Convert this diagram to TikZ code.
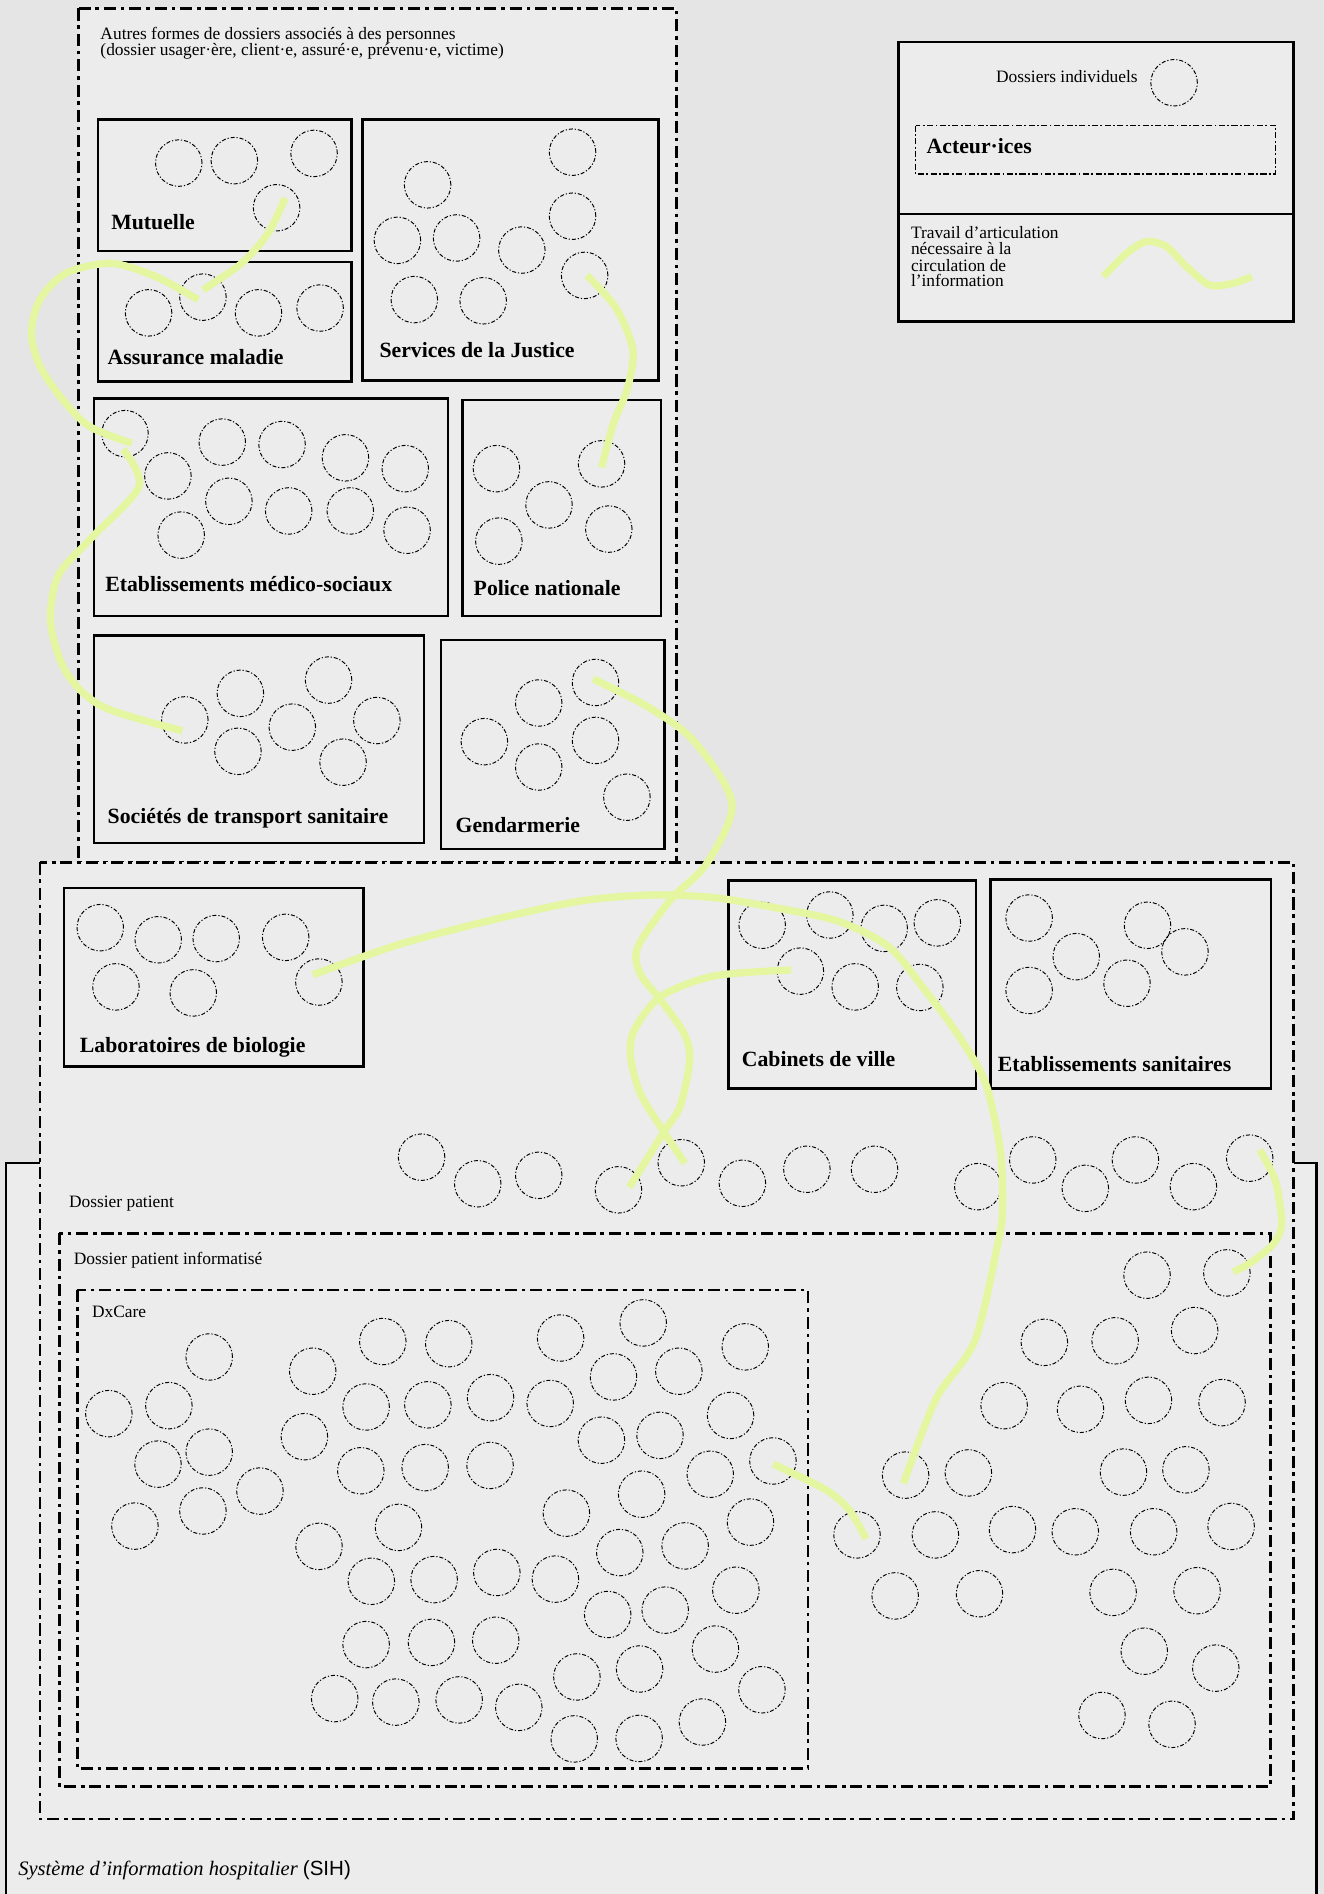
\documentclass[tikz,border=0pt]{standalone}
\usepackage{fontspec}
\setmainfont{Liberation Serif}
\newfontfamily\sansf{Liberation Sans}
\definecolor{pagebg}{HTML}{E5E5E5}
\definecolor{boxbg}{HTML}{ECECEC}
\definecolor{hl}{RGB}{228,246,160}
\begin{document}
\begin{tikzpicture}[x=1pt,y=-1pt,
  bigbox/.style={draw=black, line width=2.2pt, dash pattern=on 10pt off 4pt on 3pt off 4pt, fill=boxbg},
  solidbox/.style={draw=black, line width=2pt, fill=boxbg},
  dossier/.style={circle, draw=black, line width=0.8pt, dash pattern=on 3.3pt off 1.6pt on 1pt off 1.6pt, minimum size=38.5pt, inner sep=0pt},
  lbl/.style={font=\fontsize{14.4}{14}\selectfont, anchor=base west, inner sep=0pt},
  head/.style={font=\fontsize{18}{18}\selectfont\bfseries, anchor=base west, inner sep=0pt},
  artic/.style={draw=hl, line width=6pt},
]
\useasboundingbox (0,0) rectangle (1096,1568);
\fill[pagebg] (0,0) rectangle (1096,1568);

% SIH
\draw[line width=2pt, fill=boxbg] (5,963) rectangle (1090,1590);
\node[anchor=base west, inner sep=0pt, font=\fontsize{17}{17}\selectfont] (sih) at (15,1553) {\itshape Système d'information hospitalier \upshape\sansf(SIH)};

% Autres formes
\path[bigbox] (65,7) rectangle (560,714);
\node[lbl] (aut1) at (83,32.5) {Autres formes de dossiers associés à des personnes};
\node[lbl] (aut2) at (83,46) {(dossier usager·ère, client·e, assuré·e, prévenu·e, victime)};

\path[solidbox] (81,99) rectangle (291,208);
\path[solidbox] (81,217) rectangle (291,316);
\path[solidbox] (300,99) rectangle (545,315);
\path[solidbox] (78,330) rectangle (371,510);
\path[solidbox] (383,331) rectangle (547,510);
\path[solidbox] (78,526) rectangle (351,698);
\path[solidbox] (365,530) rectangle (550,703);

% Dossier patient
\path[bigbox] (33,714) rectangle (1071,1506);
\node[lbl] (dpl) at (57,999.5) {Dossier patient};
\path[solidbox] (53,735) rectangle (301,883);
\path[solidbox] (603,729) rectangle (808,901);
\path[solidbox] (820,728) rectangle (1052,901);

\path[bigbox] (49,1021) rectangle (1052,1479);
\node[lbl] (dpil) at (61,1047) {Dossier patient informatisé};
\path[bigbox] (64,1068) rectangle (669,1464);
\node[lbl] (dxl) at (76,1090.5) {DxCare};

% headings
\node[head] (hmu) at (92,190) {Mutuelle};
\node[head] (ham) at (89,302) {Assurance maladie};
\node[head] (hju) at (314,296) {Services de la Justice};
\node[head] (hms) at (87,489.5) {Etablissements médico-sociaux};
\node[head] (hpo) at (392,493) {Police nationale};
\node[head] (hts) at (89,681.5) {Sociétés de transport sanitaire};
\node[head] (hge) at (377,689) {Gendarmerie};
\node[head] (hlb) at (66,871) {Laboratoires de biologie};
\node[head] (hcv) at (614,883) {Cabinets de ville};
\node[head] (hes) at (826,887) {Etablissements sanitaires};

% circles
\foreach [count=\i] \x/\y in {148/135,194/133,260/127,229/172} \node[dossier] (mu\i) at (\x,\y) {};
\foreach [count=\i] \x/\y in {123/259,168/246,214/259,265/255} \node[dossier] (am\i) at (\x,\y) {};
\foreach [count=\i] \x/\y in {354/153,474/126,329/199,378/197,432/207,474/179,484/228,343/248,400/249} \node[dossier] (ju\i) at (\x,\y) {};
\foreach [count=\i] \x/\y in {103.5/359,139/394,184/366,233.5/368,286/379,335.5/388,189.5/415,239/423,290/423,337/439,150/443} \node[dossier] (ms\i) at (\x,\y) {};
\foreach [count=\i] \x/\y in {411/388,498/384,454.5/418,413/448,504/438} \node[dossier] (po\i) at (\x,\y) {};
\foreach [count=\i] \x/\y in {153/596,199/574,272/563,242/602,312/596.5,197/622,284/631} \node[dossier] (ts\i) at (\x,\y) {};
\foreach [count=\i] \x/\y in {493/565,446/582,401/614,493/613,446/635,519/660} \node[dossier] (ge\i) at (\x,\y) {};
\foreach [count=\i] \x/\y in {83/768,131/778,179/777,236.5/776,96/817,160/822,264/813} \node[dossier] (lb\i) at (\x,\y) {};
\foreach [count=\i] \x/\y in {631/766,687/757.5,732/768.6,776/764,662.6/804,708/817,761.5/817.5} \node[dossier] (cv\i) at (\x,\y) {};
\foreach [count=\i] \x/\y in {852/760,950/766,891/792,981/788,852/820,933/814} \node[dossier] (es\i) at (\x,\y) {};
\foreach [count=\i] \x/\y in {349/958,395.5/980,446/973,512/985,564/962.6,614.6/979.6,668/968,724/968,809.5/982.4,855/960.3,898.5/983.8,940/960.3,988/982.4,1034.6/958.8} \node[dossier] (dp\i) at (\x,\y) {};
\foreach [count=\i] \x/\y in {949.6/1055.7,1015.7/1053.8,864.6/1111.3,923.2/1110,989/1101.5,831.3/1163.7,894.5/1166.7,950.8/1159.3,1011.7/1161.2,749.7/1221.2,801.7/1219.4,930.1/1218.7,981.8/1216.8,709.5/1270.7,774.4/1270.7,838.2/1266.3,890.2/1268.1,955.1/1268.1,1019.2/1263.7,741.1/1321.2,810.9/1319.4,921.5/1318.3,991/1316.9,947.3/1367,1006.5/1381,912.3/1420.2,970.3/1427.5} \node[dossier] (di\i) at (\x,\y) {};
\foreach [count=\i] \x/\y in {173.2/1123.4,90.1/1170.3,139.8/1163.7,130.8/1212.1,173.2/1202.2,215.2/1234.4,111.7/1263.4,168/1250.9,
258.9/1135.2,316.9/1110.6,371.5/1112.4,303.1/1164.8,354.2/1163,406.1/1157.1,252/1189.4,298.7/1217.6,352/1215,405.7/1213.2,329.9/1264.5,264.1/1280.2,307.4/1309.1,359.4/1307.7,411.3/1301.8,303.1/1361.5,357.2/1359.7,410.4/1357.9,277.1/1406.2,327.7/1409.1,380.1/1407.3,429.5/1413.5,
464.1/1107.7,532.5/1095.2,617/1115,507.9/1139.9,562/1135.2,455.5/1161.9,604.8/1171.8,497.9/1192.3,546.4/1188.3,639.9/1209.5,588/1220.5,531.2/1237,468.9/1252.7,621.3/1260.1,513.1/1285.3,567.2/1279.8,459.8/1307.3,609.2/1316.5,503.1/1336.6,550.7/1333,592.3/1365.2,477.6/1388.3,529.5/1381.7,630.8/1398.9,581.5/1425.6,475.4/1439.6,529.1/1439.2} \node[dossier] (dx\i) at (\x,\y) {};

% legend
\draw[line width=2pt, fill=boxbg] (744,35) rectangle (1071,266);
\draw[line width=2pt] (744,177) -- (1071,177);
\node[lbl] (lg1) at (824.5,68.5) {Dossiers individuels};
\node[dossier] (lgc) at (972,68.5) {};
\draw[line width=1pt, dash pattern=on 5pt off 2pt on 1.5pt off 2pt] (758,104) rectangle (1056,144);
\node[head] (lga) at (767,127) {Acteur·ices};
\node[lbl] (lt1) at (754,197.5) {Travail d'articulation};
\node[lbl] (lt2) at (754,211) {nécessaire à la};
\node[lbl] (lt3) at (754,224.5) {circulation de};
\node[lbl] (lt4) at (754,237.5) {l'information};
\draw[artic] plot[smooth] coordinates {(913.4,229) (932.7,209.7) (949.2,200) (965.8,204.2) (982.3,220.8) (1001.6,236) (1021,234.5) (1036.2,229)};

% articulation work
\draw[artic] plot[smooth] coordinates {(236,164) (222,193) (200,218) (168,240)};
\draw[artic] plot[smooth] coordinates {(164,248) (129,229) (92,218) (55,226) (33,248) (26,276) (33,303) (52,331) (74,353) (109,367)};
\draw[artic] plot[smooth] coordinates {(102,372) (115,403) (74,447) (48,477) (42,516) (55,557) (85,585) (151,605)};
\draw[artic] plot[smooth] coordinates {(486,228) (510,255) (524,290) (519,323) (508,350) (498,387)};
\draw[artic] plot[smooth] coordinates {(491,562) (536,585) (574,613) (606,665) (585,715) (555,745) (528,784) (530,806) (547,828) (566,855) (571,877) (563,916) (549,938) (521,983)};
\draw[artic] plot[smooth] coordinates {(655,803) (591,808) (547,825) (525,853) (522,875) (530,905) (547,933) (567,963)};
\draw[artic] plot[smooth] coordinates {(259,807) (330,782) (406,762) (480,746) (538,741) (590,743) (645,752) (695,763) (736,784) (766,820) (794,858) (816,897) (828,952) (830,1000) (826,1030) (807,1110) (775,1158) (748,1228)};
\draw[artic] plot[smooth] coordinates {(640,1212) (683,1233) (703,1250) (717,1274)};
\draw[artic] plot[smooth] coordinates {(1043,952) (1055,975) (1059,993) (1061,1015) (1054,1030) (1036,1045) (1021,1053)};
\end{tikzpicture}
\end{document}
